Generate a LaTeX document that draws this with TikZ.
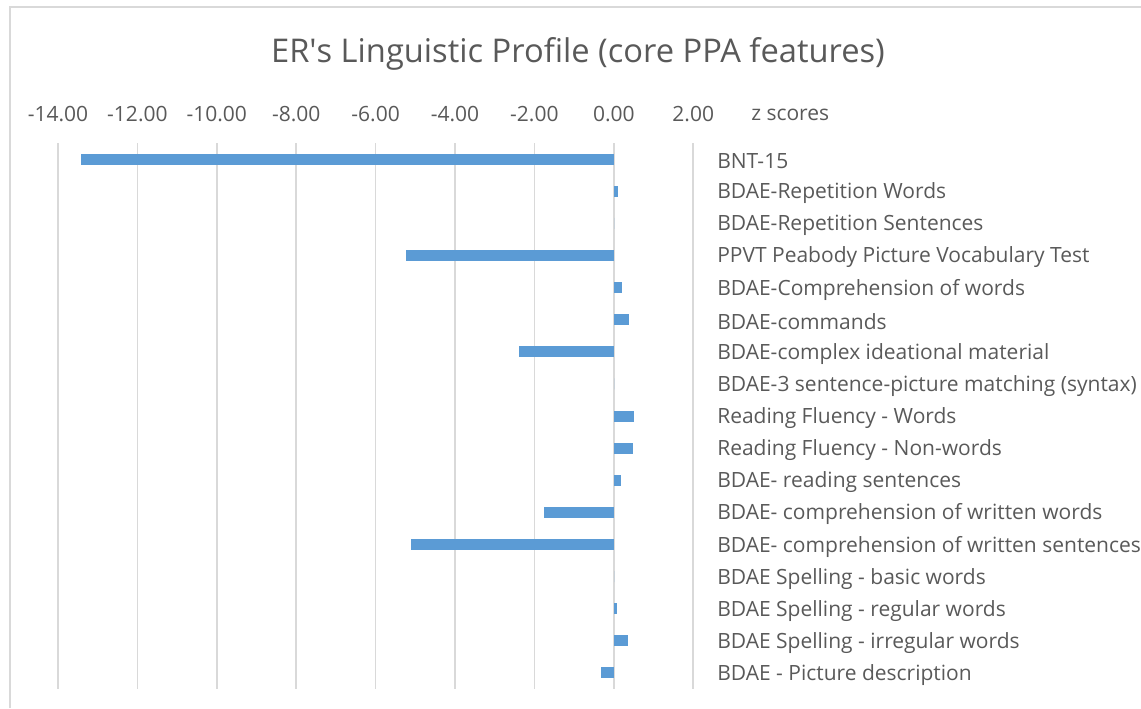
\documentclass[tikz,border=0pt]{standalone}
\usepackage{fontspec}
\setmainfont{Open Sans}
\definecolor{barblue}{HTML}{5B9BD5}
\definecolor{gridgray}{HTML}{D9D9D9}
\definecolor{txtgray}{HTML}{595959}
\tikzset{
	catlabel/.style={anchor=west, inner sep=0pt, text=txtgray, font=\fontsize{15.75}{19}\selectfont},
	ticklabel/.style={inner sep=0pt, text=txtgray, font=\fontsize{15.75}{19}\selectfont},
	gridline/.style={draw=gridgray, line width=1.2pt},
}
\begin{document}
\begin{tikzpicture}[x=0.75pt, y=-0.75pt]
	\useasboundingbox (0,0) rectangle (1141,708);
	% chart border
	\draw[gridgray, line width=1.5pt] (10,708) -- (10,7) -- (1141,7);
	\node[text=txtgray, font=\fontsize{24.5}{29}\selectfont](title) at (578,54) {ER\textquotesingle s Linguistic Profile (core PPA features)};
	% grid and axis
	\foreach \t [count=\k from 0] in {-14.00,-12.00,-10.00,-8.00,-6.00,-4.00,-2.00,0.00,2.00} {
		\draw[gridline] ({58+\k*79.4},143) -- ({58+\k*79.4},689);
		\node[ticklabel](tick\k) at ({58+\k*79.4},114.5) {\t};
	}
	\node[ticklabel, anchor=west](axistitle) at (751,114.5) {z scores};
	% bars and category names
	\foreach \val/\txt [count=\i] in {
		-13.43/BNT-15,
		0.09/BDAE-Repetition Words,
		0/BDAE-Repetition Sentences,
		-5.24/PPVT Peabody Picture Vocabulary Test,
		0.2/BDAE-Comprehension of words,
		0.38/BDAE-commands,
		-2.39/BDAE-complex ideational material,
		0/BDAE-3 sentence-picture matching (syntax),
		0.5/Reading Fluency - Words,
		0.47/Reading Fluency - Non-words,
		0.17/BDAE- reading sentences,
		-1.76/BDAE- comprehension of written words,
		-5.11/BDAE- comprehension of written sentences,
		0/BDAE Spelling - basic words,
		0.08/BDAE Spelling - regular words,
		0.35/BDAE Spelling - irregular words,
		-0.33/BDAE - Picture description} {
		\node[catlabel](cat\i) at (717,{145+(\i-0.5)*32.12}) {\txt};
		\fill[barblue] (614,{143+(\i-0.5)*32.12-5.5}) rectangle ++({\val*39.7},11);
	}
\end{tikzpicture}
\end{document}
